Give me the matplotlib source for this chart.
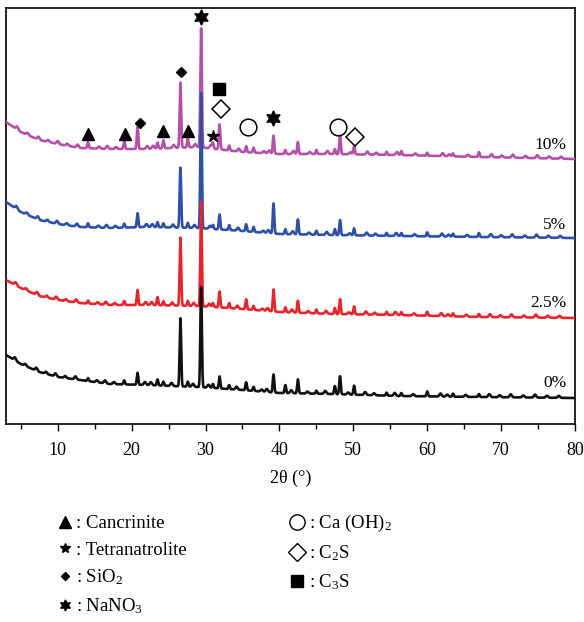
import numpy as np
import matplotlib
matplotlib.use('Agg')
from matplotlib import pyplot as plt
from matplotlib.lines import Line2D

plt.rcParams['font.family'] = ['Liberation Serif', 'DejaVu Serif']
plt.rcParams['mathtext.fontset'] = 'custom'
plt.rcParams['mathtext.rm'] = 'Liberation Serif'
plt.rcParams['mathtext.default'] = 'regular'

# samples, bottom to top
samples = ['0%', '2.5%', '5%', '10%']
colors = ['#111111', '#e8242c', '#3050a8', '#b450aa']

# background level read at a few 2theta positions (offset already included)
bg_x = [3, 5, 7.5, 10, 13, 17, 22, 29, 35, 40, 47, 56, 67, 80]
bg_0 = [69, 60, 52, 47, 44, 40, 39, 37, 34, 31, 30, 28, 27, 26]
bg_25 = [144, 136, 128, 124, 121, 119, 119, 118, 115, 112, 110, 109, 107, 106]
bg_5 = [222, 212, 204, 200, 197, 196, 197, 196, 193, 190, 189, 188, 187, 186]
bg_10 = [302, 292, 284, 280, 276, 275, 275, 277, 272, 270, 270, 269, 267, 265]

# peak positions (2theta) and heights above background
pk_x = [14.1, 19.0, 20.8, 23.5, 24.3, 26.6, 27.6, 29.4, 31.0, 31.9, 33.2, 35.5,
        36.5, 39.2, 40.8, 42.5, 45.0, 47.5, 48.2, 50.1, 54.5, 56.5, 60.0, 63.5, 67.0]
pk_0 = [3, 4, 12, 6, 4, 68, 5, 100, 4, 12, 4, 8, 4, 18, 8, 14, 3, 8, 18, 9, 3, 3, 5, 3, 3]
pk_25 = [3, 4, 15, 8, 4, 68, 5, 104, 4, 16, 5, 10, 4, 22, 5, 12, 4, 6, 15, 8, 3, 3, 4, 3, 3]
pk_5 = [4, 4, 14, 5, 4, 60, 5, 135, 4, 15, 5, 7, 5, 30, 5, 15, 4, 6, 15, 7, 3, 3, 4, 3, 4]
pk_10 = [6, 8, 22, 6, 8, 65, 9, 119, 6, 25, 5, 6, 5, 18, 4, 12, 4, 5, 20, 8, 3, 4, 3, 3, 5]

# small humps in the noisy background (same for every pattern)
hump_x = [4.2, 5.6, 7.1, 8.4, 9.7, 11.0, 12.4, 15.3, 16.4, 17.6, 21.8, 22.6, 25.4,
          28.3, 30.4, 34.2, 37.6, 38.3, 41.6, 43.8, 46.2, 49.3, 51.6, 52.8, 55.6,
          58.1, 61.8, 62.7, 65.2, 68.4, 69.8, 71.3, 73.0, 74.6, 76.2, 77.8]
hump_h = [3, 2, 3, 2, 3, 2, 3, 2, 3, 2, 3, 3, 3, 3, 3, 3, 2, 3, 3, 2, 3, 2, 3, 2, 3,
          2, 3, 2, 2, 3, 2, 3, 2, 3, 2, 2]

backgrounds = [bg_0, bg_25, bg_5, bg_10]
peaks = [pk_0, pk_25, pk_5, pk_10]
label_y = [41, 121, 199, 279]

# phase markers on the 10% pattern
tri_x, tri_y = [14.1, 19.1, 24.2, 27.6], [290, 290, 293, 293]
star_x, star_y = [31.0], [288]
sio2_x, sio2_y = [21.1, 26.7], [301, 352]
nano3_x, nano3_y = [29.4, 39.1], [407, 306]
caoh_x, caoh_y = [35.7, 47.9], [297, 297]
c2s_x, c2s_y = [32.1, 50.2], [315, 287]
c3s_x, c3s_y = [31.8], [335]

fig = plt.figure(figsize=(5.84, 6.22), dpi=100)
ax = fig.add_axes([6 / 584, 1 - 424 / 622, 569 / 584, 416 / 622])

tt = np.arange(3, 80.001, 0.02)
for i in range(3, -1, -1):
    y = np.interp(tt, bg_x, backgrounds[i])
    for p, h in zip(pk_x, peaks[i]):
        y = y + h * np.exp(-0.5 * ((tt - p) / 0.1) ** 2)
    for p, h in zip(hump_x, hump_h):
        y = y + h * np.exp(-0.5 * ((tt - p - 0.1 * i) / 0.15) ** 2)
    ax.plot(tt, y, color=colors[i], lw=1.9, zorder=10 - i)
    ax.text(78.8, label_y[i], samples[i], ha='right', va='center', fontsize=12.5)

ax.plot(tri_x, tri_y, '^', color='black', ms=8, zorder=20)
ax.plot(star_x, star_y, '*', color='black', ms=9, zorder=20)
ax.plot(sio2_x, sio2_y, 'D', color='black', ms=5, zorder=20)
ax.plot(nano3_x, nano3_y, marker=(6, 1, 0), ls='none', color='black', ms=11, zorder=20)
ax.plot(caoh_x, caoh_y, 'o', mfc='white', mec='black', mew=1.1, ms=12, zorder=20)
ax.plot(c2s_x, c2s_y, 'D', mfc='white', mec='black', mew=1.1, ms=9, zorder=20)
ax.plot(c3s_x, c3s_y, 's', color='black', ms=8, zorder=20)

ax.set_xlim(3, 80)
ax.set_ylim(0, 416)
ax.set_xticks(range(10, 81, 10))
ax.set_xticks(range(5, 80, 10), minor=True)
ax.set_yticks([])
ax.tick_params(axis='x', which='major', direction='out', length=5, width=1, labelsize=13, pad=8)
ax.tick_params(axis='x', which='minor', direction='out', length=3.5, width=1)
for s in ax.spines.values():
    s.set_linewidth(1.2)
ax.set_xlabel('2θ (°)', fontsize=13, labelpad=8)

handles = [
    Line2D([], [], ls='none', marker='^', color='black', ms=8),
    Line2D([], [], ls='none', marker='*', color='black', ms=7),
    Line2D([], [], ls='none', marker='D', color='black', ms=4),
    Line2D([], [], ls='none', marker=(6, 1, 0), color='black', ms=8),
    Line2D([], [], ls='none', marker='o', mfc='white', mec='black', ms=11),
    Line2D([], [], ls='none', marker='D', mfc='white', mec='black', ms=9),
    Line2D([], [], ls='none', marker='s', color='black', ms=8),
]
names = [': Cancrinite', ': Tetranatrolite', ': SiO$_2$', ': NaNO$_3$',
         ': Ca (OH)$_2$', ': C$_2$S', ': C$_3$S']
fig.legend(handles, names, ncol=2, loc='upper left', bbox_to_anchor=(48 / 584, 1 - 504 / 622),
           frameon=False, fontsize=13.5, handlelength=0.8, handletextpad=0.2,
           labelspacing=0.48, columnspacing=5.5, borderpad=0)

fig.savefig('out.png', dpi=100)
